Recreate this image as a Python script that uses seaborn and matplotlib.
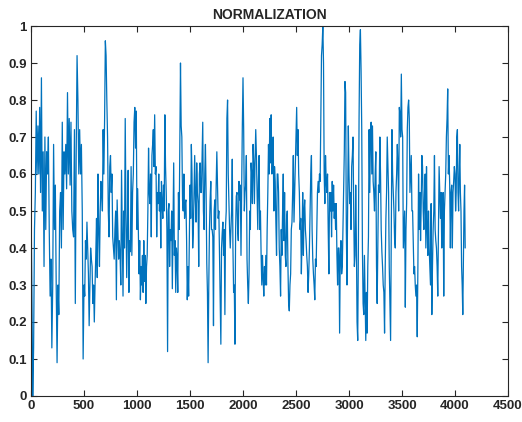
import numpy as np
import pandas as pd
import matplotlib
matplotlib.use("Agg")
import matplotlib.pyplot as plt
import seaborn as sns
from matplotlib.ticker import FuncFormatter

# signal values, one list per 500-sample block
block_0000 = [0.53, 0.3, 0.0, 0.13, 0.45, 0.55, 0.77, 0.6, 0.73, 0.6, 0.78, 0.55, 0.86, 0.5, 0.66, 0.35,
              0.7, 0.45, 0.66, 0.6, 0.7, 0.45, 0.27, 0.37, 0.13, 0.3, 0.68, 0.45, 0.57, 0.3, 0.09, 0.3,
              0.22, 0.5, 0.55, 0.4, 0.74, 0.45, 0.66, 0.6, 0.68, 0.56, 0.82, 0.6, 0.75, 0.57, 0.74, 0.5,
              0.45, 0.43, 0.72, 0.25, 0.65, 0.92, 0.8, 0.6, 0.72, 0.6, 0.68, 0.5, 0.1]
block_0500 = [0.3, 0.27, 0.42, 0.37, 0.47, 0.4, 0.33, 0.19, 0.3, 0.4, 0.37, 0.35, 0.25, 0.3, 0.2, 0.3,
              0.38, 0.48, 0.32, 0.6, 0.45, 0.35, 0.5, 0.58, 0.55, 0.5, 0.72, 0.6,
              0.75, 0.96, 0.92, 0.8, 0.7, 0.5, 0.43, 0.62, 0.65, 0.55, 0.6, 0.43, 0.4, 0.37, 0.45, 0.5,
              0.26, 0.53, 0.45, 0.37, 0.42, 0.38, 0.3, 0.61, 0.45, 0.27, 0.5, 0.4, 0.75, 0.5, 0.32, 0.45,
              0.61, 0.28, 0.42, 0.39, 0.62, 0.38, 0.55, 0.6, 0.74, 0.78, 0.67, 0.77]
block_1000 = [0.45, 0.56, 0.45, 0.33, 0.42, 0.26, 0.35, 0.3, 0.38, 0.28, 0.42, 0.31, 0.38, 0.25, 0.35, 0.38,
              0.5, 0.67, 0.55, 0.52, 0.6, 0.43, 0.65, 0.68, 0.72, 0.62, 0.76, 0.6, 0.62, 0.43, 0.55, 0.52,
              0.6, 0.5, 0.55, 0.4, 0.58, 0.52, 0.48, 0.57, 0.5, 0.76, 0.62, 0.55, 0.45, 0.12, 0.5, 0.52,
              0.35, 0.45, 0.42, 0.5, 0.29, 0.45, 0.63, 0.38, 0.42, 0.28, 0.4, 0.37, 0.28, 0.55, 0.45, 0.67,
              0.9, 0.73, 0.7, 0.53, 0.5, 0.6, 0.48, 0.52, 0.53, 0.42, 0.26, 0.35, 0.27, 0.42]
block_1500 = [0.57, 0.48, 0.68, 0.6, 0.4, 0.45, 0.55, 0.65, 0.53, 0.47, 0.63, 0.55, 0.52, 0.35, 0.6, 0.63,
              0.55, 0.55, 0.65, 0.74, 0.5, 0.45, 0.6, 0.68, 0.55, 0.36, 0.28, 0.09, 0.3, 0.45, 0.53, 0.58,
              0.45, 0.45, 0.43, 0.19, 0.5, 0.53, 0.45, 0.57, 0.66, 0.57, 0.48, 0.5, 0.38, 0.26, 0.14, 0.4,
              0.44, 0.47, 0.38, 0.45, 0.22, 0.46, 0.5, 0.75, 0.8, 0.6, 0.52, 0.45, 0.4, 0.45, 0.5, 0.64,
              0.4, 0.28, 0.3, 0.14, 0.45, 0.54, 0.55, 0.45, 0.42, 0.58, 0.53, 0.57, 0.38, 0.55, 0.73]
block_2000 = [0.86, 0.72, 0.5, 0.55, 0.57, 0.65, 0.37, 0.3, 0.25, 0.33, 0.5, 0.45, 0.63, 0.6, 0.52, 0.68,
              0.63, 0.52, 0.64,
              0.72, 0.65, 0.55, 0.45, 0.58, 0.65, 0.45, 0.5, 0.38, 0.3, 0.38, 0.32, 0.27, 0.35, 0.3, 0.38,
              0.3, 0.45, 0.55, 0.68, 0.6, 0.75, 0.63, 0.76, 0.6, 0.62, 0.7, 0.5, 0.62, 0.58, 0.47, 0.38,
              0.6, 0.6, 0.55, 0.4, 0.35, 0.27, 0.45, 0.38, 0.5, 0.6, 0.42, 0.55, 0.38, 0.35, 0.48, 0.5,
              0.35, 0.25, 0.23, 0.3, 0.33, 0.45, 0.47, 0.55, 0.65, 0.47, 0.55, 0.62]
block_2500 = [0.7, 0.78, 0.65, 0.72, 0.6, 0.55, 0.45, 0.48, 0.33, 0.43, 0.55, 0.38, 0.5, 0.53, 0.45, 0.42,
              0.38, 0.35, 0.28, 0.33, 0.4, 0.5, 0.6, 0.65, 0.45, 0.37, 0.33, 0.3, 0.26, 0.37, 0.35, 0.45,
              0.55, 0.58, 0.55, 0.6, 0.58, 0.75, 0.92, 0.95, 1.0, 0.9, 0.6, 0.52, 0.65, 0.58, 0.55, 0.6,
              0.45, 0.33, 0.55, 0.5,
              0.55, 0.43, 0.58, 0.5, 0.57, 0.48, 0.52, 0.45, 0.52, 0.38, 0.3, 0.4, 0.4, 0.17, 0.38, 0.42,
              0.33, 0.35, 0.45, 0.55, 0.66, 0.85, 0.82, 0.45, 0.3, 0.5, 0.73]
block_3000 = [0.6, 0.52, 0.55, 0.45, 0.62, 0.65, 0.7, 0.5, 0.35, 0.38, 0.57, 0.42, 0.2, 0.15, 0.4, 0.75,
              0.95, 0.99, 0.88, 0.72, 0.4, 0.25, 0.22, 0.38, 0.26, 0.15, 0.28, 0.17, 0.35, 0.43, 0.72, 0.55,
              0.72, 0.74, 0.6, 0.73, 0.58, 0.55, 0.5, 0.6, 0.66, 0.35, 0.25, 0.4, 0.57, 0.55, 0.7, 0.6,
              0.45, 0.39, 0.35, 0.3, 0.28, 0.17, 0.35, 0.48, 0.55, 0.7, 0.62, 0.55, 0.35, 0.25, 0.15, 0.45,
              0.72, 0.6, 0.55, 0.5, 0.42, 0.4, 0.55, 0.6, 0.68, 0.62, 0.5, 0.78, 0.76, 0.7, 0.87]
block_3500 = [0.72, 0.7, 0.4, 0.45, 0.5, 0.24, 0.45,
              0.52, 0.72, 0.78, 0.8, 0.75, 0.55, 0.6, 0.65, 0.5, 0.5, 0.42, 0.33, 0.35, 0.3, 0.27, 0.3,
              0.16, 0.35, 0.6, 0.45, 0.55, 0.42, 0.52, 0.65, 0.62, 0.5, 0.45, 0.55, 0.6, 0.4, 0.62, 0.45,
              0.38, 0.5, 0.4, 0.35, 0.3, 0.52, 0.22, 0.35, 0.45, 0.5, 0.65, 0.45, 0.42, 0.4, 0.35, 0.27,
              0.45, 0.62, 0.55, 0.48, 0.55, 0.4, 0.5, 0.55, 0.27, 0.5, 0.55, 0.6, 0.7, 0.75, 0.83, 0.6,
              0.65, 0.57, 0.4, 0.55, 0.57, 0.4, 0.55, 0.58, 0.62]
block_4000 = [0.6, 0.5, 0.55, 0.7, 0.72, 0.55, 0.5, 0.6, 0.68, 0.55, 0.5, 0.35, 0.3, 0.22, 0.36, 0.5,
              0.57, 0.4]

blocks = [(0, 500, block_0000), (500, 1000, block_0500), (1000, 1500, block_1000),
          (1500, 2000, block_1500), (2000, 2500, block_2000), (2500, 3000, block_2500),
          (3000, 3500, block_3000), (3500, 4000, block_3500), (4000, 4096, block_4000)]

xs, ys = [], []
for start, stop, vals in blocks:
    last = stop == 4096
    xs.append(np.linspace(start, stop, len(vals), endpoint=last))
    ys.append(np.array(vals))
df = pd.DataFrame({"sample": np.concatenate(xs), "value": np.concatenate(ys)})

sns.set_style("ticks")
plt.rcParams['font.family'] = ['Liberation Sans Narrow', 'Liberation Sans', 'DejaVu Sans']
plt.rcParams['font.weight'] = 'bold'

fig = plt.figure(figsize=(5.22, 4.22), dpi=100)
ax = fig.add_axes([31 / 522, 26 / 422, 477 / 522, 370 / 422])

sns.lineplot(data=df, x="sample", y="value", ax=ax, color="#0072BD", linewidth=0.9)

ax.set_xlim(0, 4500)
ax.set_ylim(0, 1)
ax.set_xticks(np.arange(0, 4501, 500))
ax.set_yticks(np.arange(0, 1.01, 0.1))
ax.yaxis.set_major_formatter(FuncFormatter(lambda v, p: f"{v:g}"))
ax.set_xlabel("")
ax.set_ylabel("")
ax.tick_params(direction="in", top=True, right=True, length=4, width=0.8,
               labelsize=9.5, colors="#262626", pad=3)
for s in ax.spines.values():
    s.set_linewidth(0.8)
    s.set_color("#262626")
    s.set_visible(True)
ax.set_title("NORMALIZATION", fontsize=10, fontweight="bold", pad=5)

fig.savefig("out.png", dpi=100)
